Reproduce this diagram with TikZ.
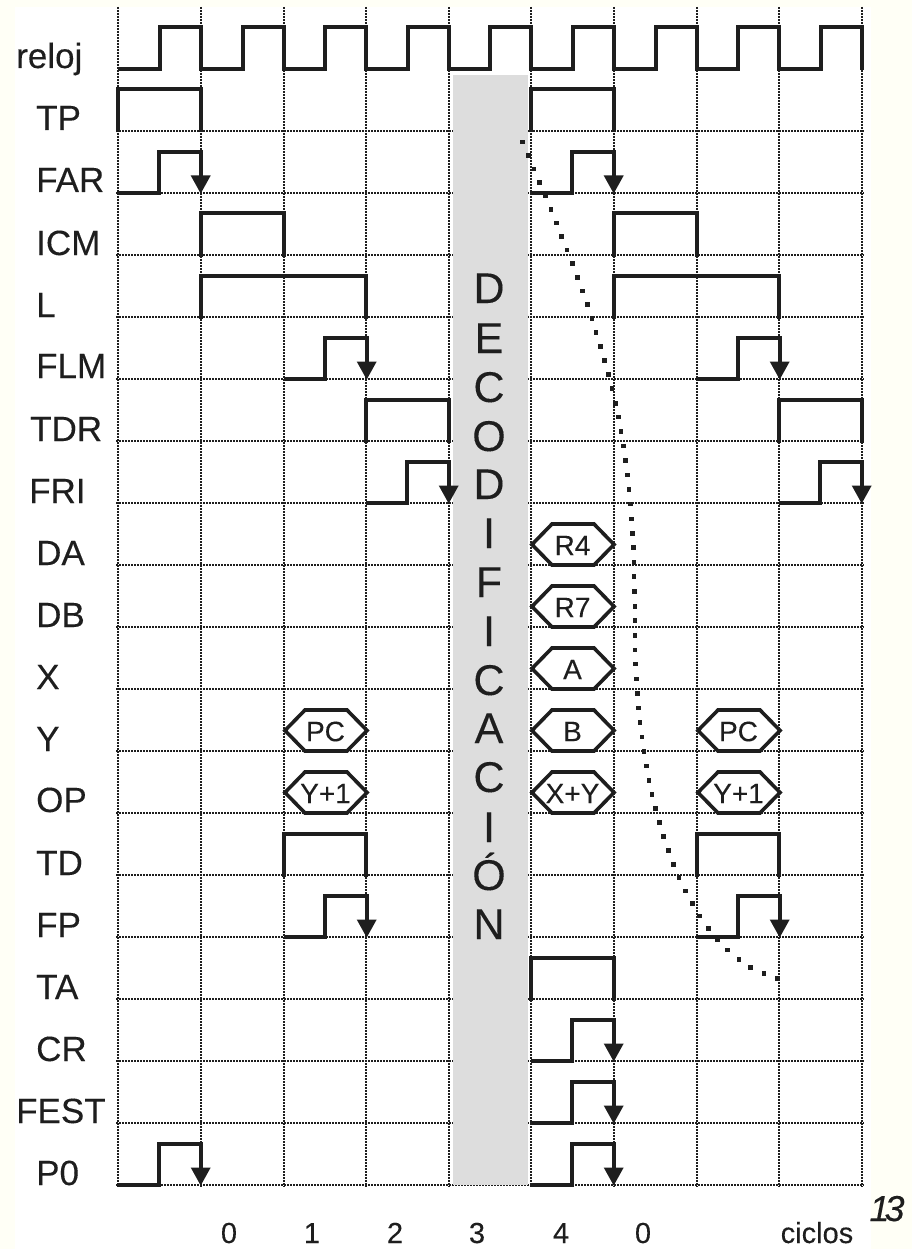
\documentclass[tikz,border=0pt]{standalone}
\usepackage{fontspec}
\setmainfont{Liberation Sans}[FakeBold=0.2]
\definecolor{paper}{HTML}{FFFFF6}
\definecolor{ink}{HTML}{1E1E1E}
\definecolor{band}{HTML}{DDDDDD}
\tikzset{
  gridline/.style={draw=ink,line width=2.5pt,dash pattern=on 2pt off 1pt},
  wave/.style={draw=ink,line width=4pt,line cap=butt,line join=miter},
  hexline/.style={draw=ink,line width=3.6pt,line join=miter,fill=white},
  tiphead/.style={fill=ink,draw=none},
  sigdot/.style={fill=ink,draw=none},
  lbl/.style={font=\fontsize{35}{40}\selectfont,text=ink,anchor=base west,inner sep=0pt},
  hexlbl/.style={font=\fontsize{28}{30}\selectfont,text=ink,anchor=center,inner sep=0pt},
  letter/.style={font=\fontsize{43}{46}\selectfont,text=ink,anchor=base,inner sep=0pt},
  tick/.style={font=\fontsize{29}{32}\selectfont,text=ink,anchor=base,inner sep=0pt},
}
% rectangular level: x start, x end, base y
\newcommand{\sigLevel}[3]{\draw[wave] (#1,#3+1.5) -- (#1,#3-41.5) -- (#2,#3-41.5) -- (#2,#3+1.5);}
% half-cycle pulse with falling arrow: x start, base y
\newcommand{\sigPulse}[2]{%
  \draw[wave] (#1,#2) -- ({#1+41},#2) -- ({#1+41},#2-41) -- ({#1+82.7},#2-41) -- ({#1+82.7},#2-14);
  \fill[tiphead] ({#1+72.7},#2-17.5) -- ({#1+92.7},#2-17.5) -- ({#1+82.7},#2+0.5) -- cycle;}
% hexagon: node name, x start, base y, text
\newcommand{\sigHex}[4]{%
  \draw[hexline] ({#2+1},#3-20.5) -- ({#2+21},#3-41) -- ({#2+63},#3-41) -- ({#2+83},#3-20.5) -- ({#2+63},#3) -- ({#2+21},#3) -- cycle;
  \node[hexlbl] (#1) at ({#2+41.5},#3-19.5) {#4};}
\begin{document}
\begin{tikzpicture}[x=1pt,y=-1pt]
\useasboundingbox (0,0) rectangle (912,1249);
\fill[paper] (0,0) rectangle (912,1249);
\fill[white] (15,7) rectangle (871,1249);
% grid
\foreach \yy in {131,193,255,317,379,441,503,565,627,689,751,813,875,937,999,1061,1123,1185}
  \draw[gridline] (116,\yy) -- (864,\yy);
\foreach \xx in {118,201,284,366,449,531,614,697,779,862}
  \draw[gridline] (\xx,7) -- (\xx,1187);
% band
\fill[band] (452.5,75) rectangle (528,1185);
% clock
\draw[wave] (118,69) -- (160,69) -- (160,27) -- (201,27) -- (201,69)
  -- (243,69) -- (243,27) -- (284,27) -- (284,69)
  -- (325,69) -- (325,27) -- (366,27) -- (366,69)
  -- (408,69) -- (408,27) -- (449,27) -- (449,69)
  -- (490,69) -- (490,27) -- (531,27) -- (531,69)
  -- (573,69) -- (573,27) -- (614,27) -- (614,69)
  -- (656,69) -- (656,27) -- (697,27) -- (697,69)
  -- (738,69) -- (738,27) -- (779,27) -- (779,69)
  -- (821,69) -- (821,27) -- (862,27) -- (862,70);
% signals
\sigLevel{118}{201}{131}\sigLevel{531}{614}{131}
\sigPulse{118}{193}\sigPulse{531}{193}
\sigLevel{201}{284}{255}\sigLevel{614}{697}{255}
\sigLevel{201}{366}{317}\sigLevel{614}{779}{317}
\sigPulse{284}{379}\sigPulse{697}{379}
\sigLevel{366}{449}{441}\sigLevel{779}{862}{441}
\sigPulse{366}{503}\sigPulse{779}{503}
\sigLevel{284}{366}{875}\sigLevel{697}{779}{875}
\sigPulse{284}{937}\sigPulse{697}{937}
\sigLevel{531}{614}{999}
\sigPulse{531}{1061}
\sigPulse{531}{1123}
\sigPulse{118}{1185}\sigPulse{531}{1185}
% hexagons
\sigHex{hda}{531}{565}{R4}
\sigHex{hdb}{531}{627}{R7}
\sigHex{hx}{531}{689}{A}
\sigHex{hy}{531}{751}{B}
\sigHex{hop}{531}{813}{X+Y}
\sigHex{hya}{284}{751}{PC}
\sigHex{hyb}{697}{751}{PC}
\sigHex{hopa}{284}{813}{Y+1}
\sigHex{hopb}{697}{813}{Y+1}
% dotted curve
\foreach \dx/\dy in {522.7/142,528.3/155.7,534/169,539.7/182.7,545.3/196,551/209.7,556.3/223,561.7/236.3,567/250,572.3/263.7,577.7/277.3,582.3/291,587.3/304.7,592/318.7,596/332.7,600.3/346.3,604.3/360.3,608.3/374.7,612/388.7,615.3/403.3,618.3/417,621/431.7,623.3/446,625.3/460.3,627.3/475,629/489.3,630.7/504,631.7/519,632.3/533.3,633.3/547.7,634/562.7,634/576.7,634.7/591.3,635/606.3,635/620.3,635/635.3,635/650,635.7/664,636.7/679,637.3/693.3,638.7/708,640/722.7,642/737,644/751.7,646.3/766,649/780.3,652/794.7,655.7/808.7,659.7/822.7,663.7/836.7,668.3/850.7,673.3/864.3,679/877.7,685.3/891,692.3/903.3,699.3/916,708.3/928.3,717.3/939.3,727.7/950,739/959.3,750.7/967.3,764/973.7,777.7/978.3}
  \fill[sigdot] (\dx-2.4,\dy-2.4) rectangle (\dx+2.4,\dy+2.4);
% row labels
\node[lbl] (lreloj) at (16,68) {reloj};
\node[lbl] (ltp) at (36,130) {TP};
\node[lbl] (lfar) at (36,192) {FAR};
\node[lbl] (licm) at (36,255) {ICM};
\node[lbl] (ll) at (36,317) {L};
\node[lbl] (lflm) at (36,378) {FLM};
\node[lbl] (ltdr) at (30,441) {TDR};
\node[lbl] (lfri) at (29,503) {FRI};
\node[lbl] (lda) at (36,565) {DA};
\node[lbl] (ldb) at (36,627) {DB};
\node[lbl] (lx) at (36,689) {X};
\node[lbl] (ly) at (36,751) {Y};
\node[lbl] (lop) at (36,812) {OP};
\node[lbl] (ltd) at (36,875) {TD};
\node[lbl] (lfp) at (36,937) {FP};
\node[lbl] (lta) at (36,999) {TA};
\node[lbl] (lcr) at (36,1061) {CR};
\node[lbl] (lfest) at (16,1123) {FEST};
\node[lbl] (lpz) at (36,1185) {P0};
% band letters
\node[letter] (d1) at (489,303) {D};
\node[letter] (d2) at (489,353) {E};
\node[letter] (d3) at (489,402) {C};
\node[letter] (d4) at (489,451) {O};
\node[letter] (d5) at (489,499) {D};
\node[letter] (d6) at (489,548) {I};
\node[letter] (d7) at (489,597) {F};
\node[letter] (d8) at (489,646) {I};
\node[letter] (d9) at (489,695) {C};
\node[letter] (d10) at (489,743) {A};
\node[letter] (d11) at (489,792) {C};
\node[letter] (d12) at (489,842) {I};
\node[letter] (d13) at (489,890) {Ó};
\node[letter] (d14) at (489,939) {N};
% cycle numbers
\node[tick] (c0) at (229,1243) {0};
\node[tick] (c1) at (312,1243) {1};
\node[tick] (c2) at (395,1243) {2};
\node[tick] (c3) at (477,1243) {3};
\node[tick] (c4) at (561,1243) {4};
\node[tick] (c5) at (643,1243) {0};
\node[tick] (cc) at (817,1243) {ciclos};
\node[font=\fontsize{36}{38}\itshape\selectfont,text=ink,anchor=base,inner sep=0pt] (pg) at (887,1221) {1\kern-5pt 3};
\end{tikzpicture}
\end{document}
